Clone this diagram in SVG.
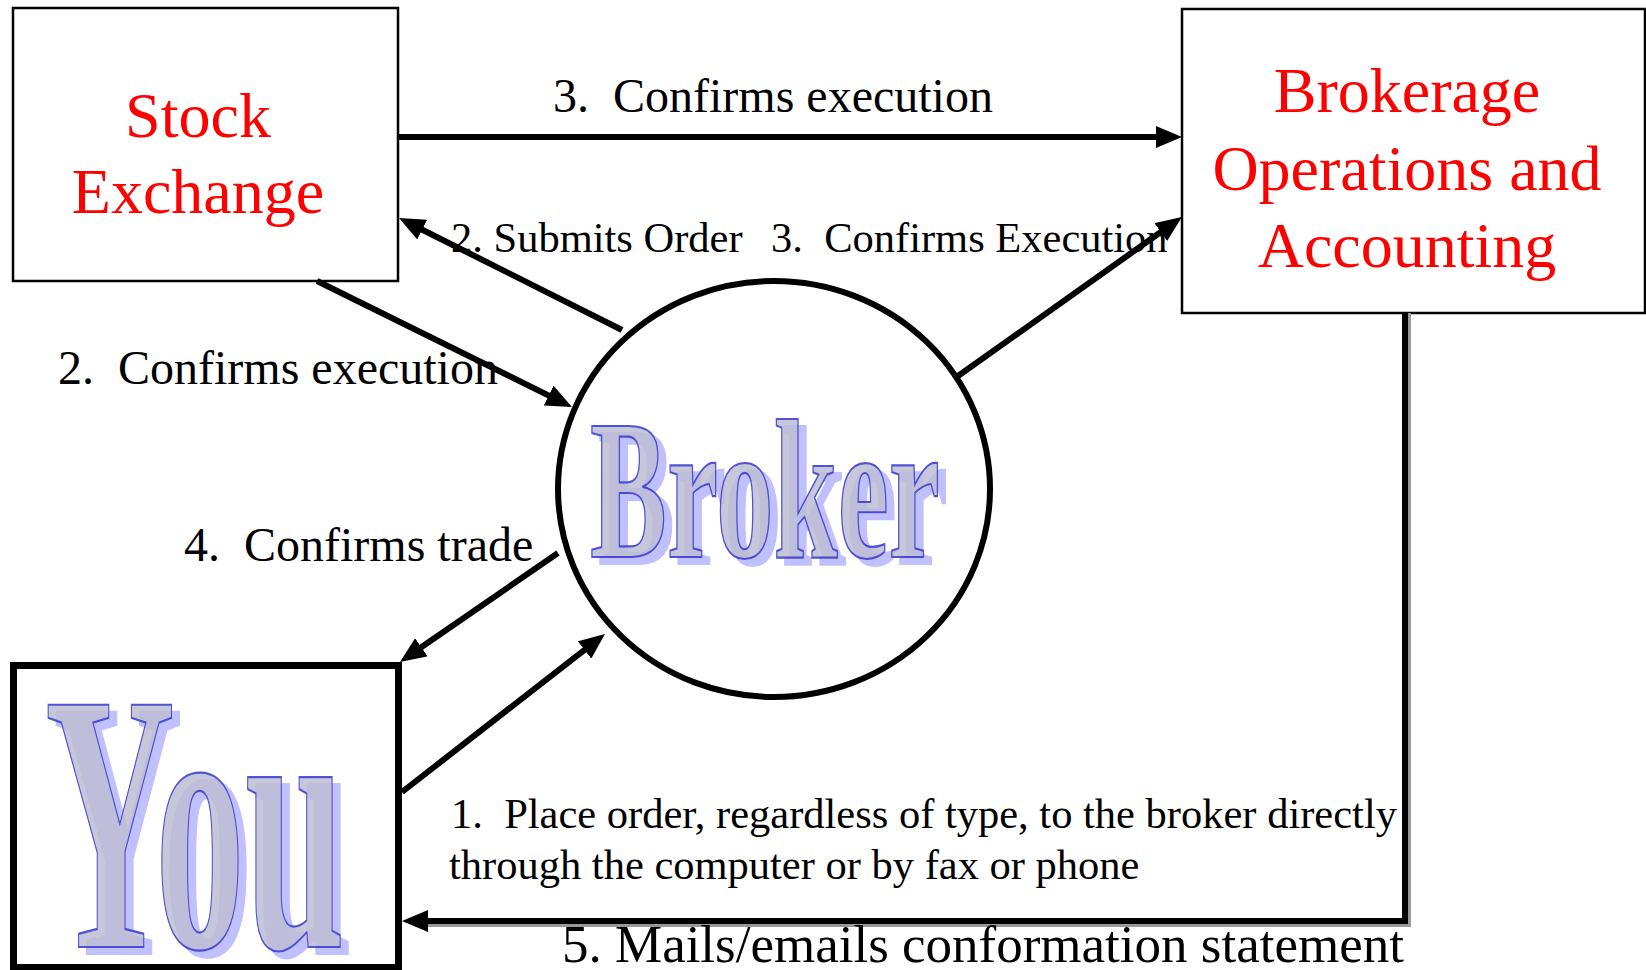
<svg xmlns="http://www.w3.org/2000/svg" width="1646" height="970" viewBox="0 0 1646 970">
<style>
.box{fill:#fff;stroke:#000;stroke-width:2.5}
.title{font-family:"Liberation Serif","Times New Roman",serif;font-size:64px;fill:#ff0000;text-anchor:middle}
.lbl{font-family:"Liberation Serif","Times New Roman",serif;fill:#000;white-space:pre}
.conn{stroke:#000;stroke-width:6;fill:none}
.art{font-family:"Liberation Serif","Times New Roman",serif;font-weight:bold;fill:#bdbdd4;stroke:#3333cc;stroke-width:2.2;filter:url(#wordart)}
</style>
<defs>
<marker id="arrow" markerUnits="userSpaceOnUse" markerWidth="26" markerHeight="22" refX="16" refY="11" orient="auto">
<path d="M0,0 L26,11 L0,22 z" fill="#000"/>
</marker>
<filter id="wordart" x="-10%" y="-10%" width="130%" height="130%">
<feOffset in="SourceAlpha" dx="8" dy="7" result="off"/>
<feFlood flood-color="#8080ff" flood-opacity="0.5"/>
<feComposite in2="off" operator="in" result="shadow"/>
<feComponentTransfer in="SourceGraphic" result="main">
<feFuncA type="linear" slope="0.85"/>
</feComponentTransfer>
<feMerge>
<feMergeNode in="shadow"/>
<feMergeNode in="main"/>
</feMerge>
</filter>
</defs>
<rect width="1646" height="970" fill="#fff"/>

<g id="stock-exchange">
<rect class="box" x="13" y="8" width="385" height="273"/>
<text class="title" x="198" y="137">Stock</text>
<text class="title" x="198" y="213">Exchange</text>
</g>

<g id="brokerage">
<rect class="box" x="1182" y="9" width="463" height="304"/>
<text class="title" x="1407" y="112">Brokerage</text>
<text class="title" x="1407" y="190">Operations and</text>
<text class="title" x="1407" y="267">Accounting</text>
</g>

<g id="broker">
<ellipse cx="774" cy="489" rx="216" ry="208" fill="#fff" stroke="#000" stroke-width="6"/>
<text class="art" x="590" y="557" font-size="200" textLength="350" lengthAdjust="spacingAndGlyphs">Broker</text>
</g>

<g id="you">
<rect x="13.5" y="665.5" width="385" height="302" fill="#fff" stroke="#000" stroke-width="7"/>
<text class="art" x="45" y="947" font-size="370" textLength="300" lengthAdjust="spacingAndGlyphs">You</text>
</g>

<g id="connectors">
<line class="conn" x1="398" y1="137" x2="1172" y2="137" marker-end="url(#arrow)"/>
<line class="conn" x1="622" y1="330" x2="407.9" y2="222.5" marker-end="url(#arrow)"/>
<line class="conn" x1="317" y1="281" x2="563" y2="402.6" marker-end="url(#arrow)"/>
<line class="conn" x1="958" y1="376" x2="1173.8" y2="222.8" marker-end="url(#arrow)"/>
<line class="conn" x1="558" y1="553" x2="408.2" y2="656.3" marker-end="url(#arrow)"/>
<line class="conn" x1="402" y1="792" x2="597.1" y2="640.1" marker-end="url(#arrow)"/>
<path d="M1408,313 V924 H415" fill="none" stroke="#999" stroke-width="6"/>
<path class="conn" d="M1405,313 V921 H412" marker-end="url(#arrow)"/>
</g>

<g id="labels">
<text class="lbl" x="553" y="112" font-size="48">3.  Confirms execution</text>
<text class="lbl" x="451" y="252" font-size="42.5">2. Submits Order</text>
<text class="lbl" x="771" y="252" font-size="42.5">3.  Confirms Execution</text>
<text class="lbl" x="58" y="384" font-size="48">2.  Confirms execution</text>
<text class="lbl" x="184" y="561" font-size="48">4.  Confirms trade</text>
<text class="lbl" x="451" y="828" font-size="42.5">1.  Place order, regardless of type, to the broker directly</text>
<text class="lbl" x="449" y="879" font-size="42.5">through the computer or by fax or phone</text>
<text class="lbl" x="562" y="962" font-size="53">5. Mails/emails conformation statement</text>
</g>
</svg>
